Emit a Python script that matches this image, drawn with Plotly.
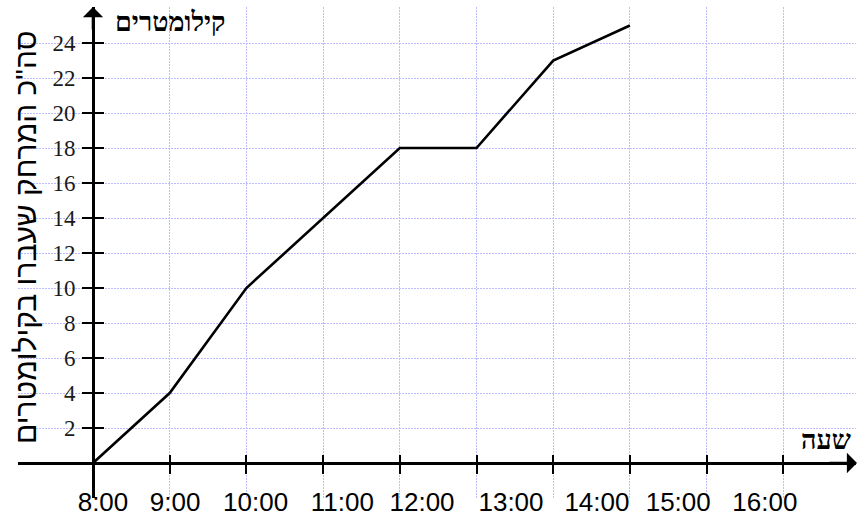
import plotly.graph_objects as go

# ---- data ----
hours = [8, 9, 10, 12, 13, 14, 15]
km = [0, 4, 10, 18, 18, 23, 25]
hour_ticks = [8, 9, 10, 11, 12, 13, 14, 15, 16, 17]
km_ticks = [2, 4, 6, 8, 10, 12, 14, 16, 18, 20, 22, 24]
time_labels = ["8:00", "9:00", "10:00", "11:00", "12:00", "13:00", "14:00", "15:00", "16:00"]
y_title = 'סה"כ המרחק שעברו בקילומטרים'
y_unit = "קילומטרים"
x_unit = "שעה"

# ---- layout helpers ----
X_RANGE = [7.022, 17.948]
Y_RANGE = [-2.0, 26.06]
# where the hand-placed time labels sit (hours, along the time scale)
time_label_pos = [8.13, 9.07, 10.12, 11.25, 12.29, 13.45, 14.57, 15.63, 16.76]

W, H = 858, 518
ML, MR, MT, MB = 18, 2, 7, 20
plot_w = W - ML - MR
plot_h = H - MT - MB

xpos = (0 - Y_RANGE[0]) / (Y_RANGE[1] - Y_RANGE[0])   # x axis sits at km = 0
ypos = (8 - X_RANGE[0]) / (X_RANGE[1] - X_RANGE[0])   # y axis sits at 8:00

GRID = "rgb(188,188,255)"
GRID_DASH = "2px,1px"

fig = go.Figure()
fig.add_trace(go.Scatter(x=hours, y=km, mode="lines",
                         line=dict(color="black", width=2.6),
                         hoverinfo="skip", showlegend=False))
# invisible helpers so the overlay axes are drawn
for xa, ya in [("x2", "y"), ("x3", "y"), ("x", "y2")]:
    fig.add_trace(go.Scatter(x=[hours[0]], y=[km[0]], xaxis=xa, yaxis=ya,
                             mode="markers", marker=dict(opacity=0),
                             hoverinfo="skip", showlegend=False))

fig.update_layout(
    width=W, height=H,
    margin=dict(l=ML, r=MR, t=MT, b=MB),
    paper_bgcolor="white", plot_bgcolor="white",
    showlegend=False,
    xaxis=dict(range=X_RANGE, tickvals=hour_ticks, showticklabels=False,
               ticks="outside", ticklen=9, tickwidth=2, tickcolor="black",
               showgrid=True, gridcolor=GRID, griddash=GRID_DASH, gridwidth=1,
               showline=True, linecolor="black", linewidth=2.6,
               zeroline=False, anchor="free", position=xpos, fixedrange=True),
    xaxis3=dict(range=X_RANGE, tickvals=hour_ticks, showticklabels=False,
                ticks="inside", ticklen=8, tickwidth=2, tickcolor="black",
                showgrid=False, showline=False, zeroline=False,
                overlaying="x", anchor="free", position=xpos),
    xaxis2=dict(range=X_RANGE, tickvals=time_label_pos, ticktext=time_labels,
                ticks="", showgrid=False, showline=False, zeroline=False,
                overlaying="x", anchor="free", position=xpos,
                tickfont=dict(family="Liberation Sans", size=26, color="black"),
                ticklabelstandoff=21),
    yaxis=dict(range=Y_RANGE, tickvals=km_ticks,
               ticks="outside", ticklen=10, tickwidth=2, tickcolor="black",
               showgrid=True, gridcolor=GRID, griddash=GRID_DASH, gridwidth=1,
               showline=True, linecolor="black", linewidth=2.6,
               zeroline=False, anchor="free", position=ypos,
               ticklabelstandoff=2,
               tickfont=dict(family="Liberation Serif", size=23, color="#1a1a1a")),
    yaxis2=dict(range=Y_RANGE, tickvals=km_ticks, showticklabels=False,
                ticks="inside", ticklen=10, tickwidth=2, tickcolor="black",
                showgrid=False, showline=False, zeroline=False,
                overlaying="y", anchor="free", position=ypos, side="left"),
)

# axis arrows
fig.add_annotation(x=hour_ticks[0], xref="x", y=1.0, yref="paper",
                   ax=0, ay=24, text="", showarrow=True,
                   arrowhead=1, arrowsize=1.3, arrowwidth=2.6, arrowcolor="black")
fig.add_annotation(x=(W - ML) / plot_w, xref="paper", y=0, yref="y",
                   ax=-30, ay=0, text="", showarrow=True,
                   arrowhead=1, arrowsize=1.3, arrowwidth=2.6, arrowcolor="black")

# texts
fig.add_annotation(text=y_title, textangle=-90, showarrow=False,
                   xref="paper", yref="paper",
                   x=(25 - ML) / plot_w, y=(H - MB - 238) / plot_h,
                   xanchor="center", yanchor="middle",
                   font=dict(family="Liberation Sans", size=30, color="black"))
fig.add_annotation(text=y_unit, showarrow=False,
                   xref="paper", yref="paper",
                   x=(170 - ML) / plot_w, y=(H - MB - 22) / plot_h,
                   xanchor="center", yanchor="middle",
                   font=dict(family="Liberation Serif", size=27, color="black",
                             weight="bold"))
fig.add_annotation(text=x_unit, showarrow=False,
                   xref="paper", yref="paper",
                   x=(826 - ML) / plot_w, y=(H - MB - 440) / plot_h,
                   xanchor="center", yanchor="middle",
                   font=dict(family="Liberation Serif", size=27, color="black",
                             weight="bold"))

fig.write_html("out.html", config={"displayModeBar": False},
               post_script="document.body.style.margin='0';")
